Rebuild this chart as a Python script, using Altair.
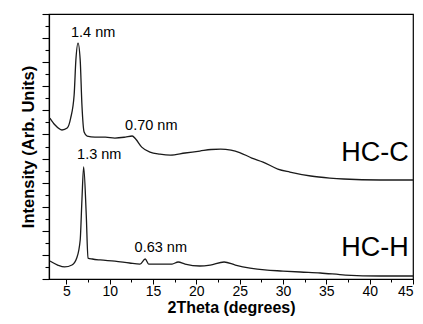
import altair as alt
import pandas as pd

# HC-C pattern (upper curve)
theta_c = [3.1, 3.7, 4.5, 5.1, 5.5, 5.9, 6.1, 6.35, 6.6, 6.8, 7.05, 7.4, 8.3, 9.5, 10.6,
           11.8, 12.6, 13.0, 13.7, 14.65, 15.8, 17.0, 18.7, 20.4, 21.7, 22.8, 24.0,
           25.0, 26.4, 27.7, 29.4, 30.8, 33.2, 35.4, 37.0, 41.2, 45.0]
int_c = [13.36, 12.78, 12.37, 12.53, 13.36, 15.27, 18.17, 19.59, 18.17, 14.44, 12.2,
         11.87, 11.78, 11.78, 11.7, 11.78, 11.87, 11.62, 10.95, 10.54, 10.37, 10.29,
         10.46, 10.62, 10.75, 10.79, 10.7, 10.5, 10.04, 9.71, 9.13, 8.88, 8.55, 8.38,
         8.3, 8.22, 8.22]

# HC-H pattern (lower curve)
theta_h = [3.1, 4.0, 4.8, 5.65, 6.2, 6.6, 6.8, 7.0, 7.3, 7.5, 8.0, 8.9, 10.6, 12.3,
           13.5, 14.1, 14.5, 15.8, 17.2, 17.9, 18.7, 20.4, 21.6, 23.2, 24.5, 26.2,
           27.9, 30.0, 32.0, 34.3, 37.2, 41.2, 45.0]
int_h = [1.49, 1.16, 1.0, 1.16, 1.74, 3.24, 6.56, 9.3, 5.3, 1.74, 1.66, 1.58, 1.49,
         1.33, 1.24, 1.66, 1.24, 1.24, 1.24, 1.41, 1.24, 1.08, 1.16, 1.41, 1.16, 0.91,
         0.75, 0.66, 0.58, 0.5, 0.33, 0.25, 0.25]

# Annotations
ann_text = ["1.4 nm", "0.70 nm", "1.3 nm", "0.63 nm"]
ann_x = [8.1, 14.8, 8.8, 15.9]
ann_y = [20.4, 12.7, 10.3, 2.6]

name_text = ["HC-C", "HC-H"]
name_x = [44.5, 44.5]
name_y = [10.5, 2.6]

x_ticks = [5, 7.5, 10, 12.5, 15, 17.5, 20, 22.5, 25, 27.5, 30, 32.5, 35, 37.5, 40, 42.5, 45]
y_ticks = list(range(0, 23))

FONT = "Liberation Sans"

curves = pd.concat([
    pd.DataFrame({"theta": theta_c, "intensity": int_c, "sample": "HC-C"}),
    pd.DataFrame({"theta": theta_h, "intensity": int_h, "sample": "HC-H"}),
])
ann = pd.DataFrame({"t": ann_text, "x": ann_x, "y": ann_y})
names = pd.DataFrame({"t": name_text, "x": name_x, "y": name_y})

xscale = alt.Scale(domain=[3, 45], nice=False, zero=False)
yscale = alt.Scale(domain=[0, 22], nice=False, zero=False)

x_axis = alt.Axis(
    title="2Theta (degrees)", values=x_ticks, grid=False,
    labelExpr="datum.value % 5 === 0 ? datum.label : ''",
    tickSize={"condition": {"test": "datum.value % 5 === 0", "value": 5}, "value": 3},
    labelFontSize=14, labelFont=FONT, labelColor="black", labelPadding=0,
    titleFontSize=16, titleFont=FONT, titleFontWeight="bold", titleColor="black",
    titleY=36, titleBaseline="bottom",
    domainColor="black", tickColor="black", domainWidth=1.2,
)
y_axis = alt.Axis(
    title="Intensity (Arb. Units)", values=y_ticks, grid=False, labels=False,
    tickSize={"condition": {"test": "datum.value % 2 === 0", "value": 7}, "value": 4},
    tickWidth=1.1,
    titleFontSize=16.5, titleFont=FONT, titleFontWeight="bold", titleColor="black",
    titlePadding=5, domainColor="black", tickColor="black", domainWidth=1.2,
)

lines = alt.Chart(curves).mark_line(
    color="#1a1a1a", strokeWidth=1.3, interpolate="monotone"
).encode(
    x=alt.X("theta:Q", scale=xscale, axis=x_axis),
    y=alt.Y("intensity:Q", scale=yscale, axis=y_axis),
    detail="sample:N",
)

ann_layer = alt.Chart(ann).mark_text(
    font=FONT, fontSize=14.5, color="black", baseline="middle", align="center"
).encode(
    x=alt.X("x:Q", scale=xscale, axis=x_axis),
    y=alt.Y("y:Q", scale=yscale, axis=y_axis),
    text="t:N",
)

name_layer = alt.Chart(names).mark_text(
    font=FONT, fontSize=27, color="black", baseline="middle", align="right"
).encode(
    x=alt.X("x:Q", scale=xscale, axis=x_axis),
    y=alt.Y("y:Q", scale=yscale, axis=y_axis),
    text="t:N",
)

chart = alt.layer(lines, ann_layer, name_layer).properties(
    width=364, height=265,
    autosize=alt.AutoSizeParams(type="none"),
    padding={"left": 41, "top": 6, "right": 2, "bottom": 37},
    background="white",
).configure_view(stroke="black", strokeWidth=1.2)

chart.save("out.html", embed_options={"renderer": "svg", "actions": False})
